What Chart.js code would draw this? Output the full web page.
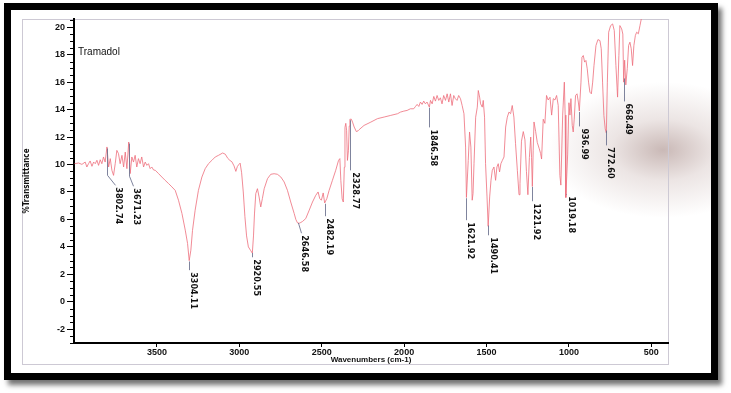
<!DOCTYPE html>
<html>
<head>
<meta charset="utf-8">
<script src="https://cdn.jsdelivr.net/npm/chart.js@4.4.1/dist/chart.umd.min.js"></script>
<style>
    html, body { margin: 0; padding: 0; background: #fff; }
    body { width: 731px; height: 393px; position: relative; overflow: hidden; }
    #frame {
        position: absolute; left: 4px; top: 3px; width: 700px; height: 363px;
        border: 7px solid #000;
        box-shadow: 4px 5px 5px rgba(0, 0, 0, 0.55);
        background: radial-gradient(ellipse 115px 68px at 652px 140px, rgba(128, 88, 82, 0.42) 0%, rgba(160, 125, 120, 0.2) 45%, rgba(255, 255, 255, 0) 100%), #fff;
    }
    #sheet { position: absolute; left: 22px; top: 19px; width: 645px; height: 344px; border: 1px solid #cdc9d4; }
    #chart { position: absolute; left: 0; top: 0; }
</style>
</head>
<body>
<div id="frame"></div>
<div id="sheet"></div>
<canvas id="chart" width="731" height="393"></canvas>
<script>
    // --- Spektrum (Wellenzahl cm-1 / %Transmittance) ---
    const wavenumbers = [
        4000, 3975, 3955, 3935, 3925, 3915, 3905, 3894, 3884, 3874, 3864, 3854, 3844, 3834, 3824, 3814,
        3803, 3793, 3783, 3773, 3763, 3753, 3743, 3733, 3723, 3712, 3702, 3692, 3682, 3671, 3662, 3652,
        3642, 3632, 3622, 3612, 3602, 3592, 3581, 3571, 3561, 3551, 3541, 3531, 3520, 3510, 3490, 3470,
        3450, 3429, 3409, 3389, 3369, 3348, 3328, 3314, 3304, 3294, 3284, 3268, 3248, 3227, 3207, 3187,
        3166, 3146, 3126, 3101, 3085, 3070, 3057, 3045, 3032, 3021, 3012, 3003, 2995, 2986, 2976, 2966,
        2956, 2945, 2932, 2921, 2914, 2908, 2900, 2890, 2880, 2870, 2860, 2849, 2829, 2809, 2789, 2769,
        2748, 2728, 2708, 2688, 2667, 2657, 2647, 2637, 2627, 2617, 2597, 2576, 2556, 2536, 2522, 2512,
        2502, 2491, 2482, 2469, 2455, 2435, 2415, 2398, 2390, 2384, 2376, 2369, 2363, 2359, 2354, 2349,
        2344, 2338, 2333, 2329, 2320, 2313, 2303, 2290, 2280, 2273, 2243, 2202, 2162, 2121, 2081, 2040,
        2022, 2002, 1982, 1962, 1942, 1931, 1921, 1911, 1901, 1891, 1881, 1871, 1861, 1847, 1840, 1830,
        1820, 1810, 1800, 1790, 1780, 1770, 1760, 1749, 1739, 1729, 1719, 1709, 1699, 1689, 1679, 1669,
        1658, 1648, 1637, 1627, 1622, 1611, 1603, 1595, 1587, 1582, 1576, 1566, 1556, 1550, 1542, 1536,
        1526, 1520, 1512, 1506, 1497, 1490, 1481, 1473, 1465, 1455, 1445, 1437, 1429, 1421, 1413, 1404,
        1394, 1384, 1374, 1364, 1354, 1344, 1334, 1324, 1313, 1303, 1297, 1288, 1277, 1267, 1258, 1249,
        1240, 1232, 1227, 1222, 1217, 1212, 1202, 1192, 1180, 1172, 1166, 1156, 1146, 1136, 1126, 1115,
        1105, 1095, 1085, 1075, 1065, 1055, 1049, 1038, 1028, 1023, 1019, 1008, 1000, 994, 988, 980,
        974, 968, 960, 951, 943, 937, 927, 921, 913, 905, 897, 889, 881, 873, 864, 856,
        848, 836, 824, 812, 804, 796, 788, 780, 773, 767, 759, 747, 735, 725, 715, 705,
        697, 691, 680, 673, 668, 662, 655, 646, 638, 630, 622, 614, 606, 597, 589, 579,
        569, 559, 550
    ];
    const transmittance = [
        10.06, 10.11, 10.01, 10.18, 9.82, 10.06, 10.26, 9.87, 10.18, 10.06, 10.31, 9.94, 10.35, 10.06, 10.55, 10.18,
        11.28, 9.82, 10.43, 9.58, 9.21, 10.06, 11.03, 10.79, 10.06, 10.67, 9.82, 10.91, 9.70, 11.64, 9.34, 10.55,
        10.18, 10.67, 9.82, 10.43, 10.06, 10.55, 9.82, 10.18, 9.94, 10.06, 9.70, 9.82, 9.6, 9.58, 9.34, 9.09,
        8.85, 8.61, 8.37, 8.12, 7.40, 6.43, 5.22, 4.25, 3.0, 3.76, 5.2, 6.67, 8.12, 9.09, 9.70, 10.06,
        10.31, 10.55, 10.67, 10.84, 10.75, 10.45, 10.3, 10.2, 9.9, 9.5, 9.85, 10.0, 10.1, 9.4, 8.0, 6.2,
        4.8, 4.0, 3.75, 3.55, 4.8, 6.4, 7.88, 8.24, 7.64, 6.91, 7.52, 8.24, 8.97, 9.29, 9.33, 9.29,
        9.09, 8.73, 8.12, 7.27, 6.43, 6.0, 5.75, 5.72, 5.78, 5.85, 6.06, 6.67, 7.27, 7.76, 8.0, 7.52,
        7.4, 7.93, 7.2, 7.52, 8.12, 8.85, 9.58, 10.3, 10.43, 8.85, 7.5, 7.27, 9.8, 12.7, 13.0, 12.5,
        10.3, 11.0, 12.8, 13.3, 13.3, 13.09, 12.73, 12.4, 12.45, 12.54, 12.85, 13.09, 13.34, 13.46, 13.58, 13.70,
        13.82, 13.89, 13.94, 14.06, 14.06, 14.23, 14.38, 14.23, 14.55, 14.38, 14.62, 14.42, 14.55, 14.18, 14.67, 14.42,
        14.96, 14.62, 15.03, 14.67, 14.86, 14.42, 15.03, 14.67, 15.15, 14.55, 15.15, 14.3, 15.03, 14.79, 14.67, 15.03,
        14.79, 14.3, 13.7, 11.27, 7.6, 10.3, 12.37, 11.27, 7.4, 7.88, 10.06, 13.45, 14.18, 15.39, 14.91, 14.42,
        14.18, 14.67, 13.45, 10.06, 7.64, 5.5, 7.64, 8.85, 9.58, 9.82, 8.85, 9.82, 10.06, 9.46, 10.06, 10.3,
        10.55, 12.73, 13.45, 13.82, 13.7, 14.3, 13.45, 11.52, 9.58, 7.8, 8.6, 11.7, 12.4, 11.8, 9.5, 7.8,
        10.5, 12.0, 10.5, 8.4, 11.0, 13.1, 12.4, 11.6, 11.15, 10.8, 10.4, 13.3, 13.0, 15.03, 14.7, 14.9,
        13.6, 14.8, 14.7, 15.03, 14.3, 9.2, 8.5, 13.6, 16.0, 13.6, 7.6, 10.7, 14.5, 13.6, 14.8, 12.85,
        12.37, 13.3, 15.03, 15.15, 14.55, 13.9, 16.0, 17.82, 17.94, 17.46, 17.58, 16.97, 16.0, 15.27, 15.15, 16.0,
        17.21, 18.67, 19.1, 19.03, 18.43, 16.0, 13.58, 12.6, 12.3, 16.0, 19.64, 20.12, 20.24, 19.76, 17.21, 14.91,
        17.94, 20.12, 19.88, 19.5, 16.0, 17.6, 15.8, 17.0, 18.67, 18.91, 18.43, 17.21, 18.67, 19.4, 19.64, 19.52,
        20.12, 20.73, 21.2
    ];

    // Achsen
    const xTicks = [3500, 3000, 2500, 2000, 1500, 1000, 500];
    const yTicks = [-2, 0, 2, 4, 6, 8, 10, 12, 14, 16, 18, 20];

    // Peak-Beschriftungen
    const peakWavenumbers = [3802.74, 3671.23, 3304.11, 2920.55, 2646.58, 2482.19, 2328.77, 1846.58,
                             1621.92, 1490.41, 1221.92, 1019.18, 936.99, 772.60, 668.49];

    // Layout der Beschriftungen: Oberkante des Textes (in %T) und seitlicher Versatz (px)
    const peakLabelTop = [8.34, 8.27, 2.16, 3.1, 4.85, 6.09, 9.43, 12.56, 5.8, 4.7, 7.18, 7.69, 12.63, 11.25, 14.45];
    const peakLabelShift = [8, 4, 1, 1, 3, 1, 2, 1, 1, 2, 1, 2, 2, 1, 1];

    const NARROW = "'Liberation Sans Narrow', 'DejaVu Sans Condensed', sans-serif";
    const SANS = "'Liberation Sans', Arial, sans-serif";

    // Kurvenwert an einer beliebigen Wellenzahl (lineare Interpolation)
    function valueAt(wn) {
        for (let i = 0; i < wavenumbers.length - 1; i++) {
            const a = wavenumbers[i], b = wavenumbers[i + 1];
            if (wn <= a && wn >= b) {
                const t = (a - wn) / (a - b);
                return transmittance[i] + t * (transmittance[i + 1] - transmittance[i]);
            }
        }
        return transmittance[transmittance.length - 1];
    }

    // --- Plugins ---
    const minorTicks = {
        id: 'minorTicks',
        afterDraw(chart) {
            const { ctx, chartArea, scales: { y } } = chart;
            ctx.save();
            ctx.strokeStyle = '#000';
            ctx.lineWidth = 1;
            for (let v = -3; v <= 20.5; v += 0.5) {
                if (Math.abs(v / 2 - Math.round(v / 2)) < 1e-6) continue;
                const py = Math.round(y.getPixelForValue(v)) + 0.5;
                ctx.beginPath();
                ctx.moveTo(chartArea.left - 4, py);
                ctx.lineTo(chartArea.left - 1, py);
                ctx.stroke();
            }
            ctx.restore();
        }
    };

    const peakLabels = {
        id: 'peakLabels',
        afterDatasetsDraw(chart) {
            const { ctx, scales: { x, y } } = chart;
            ctx.save();
            ctx.font = "bold 9px " + NARROW;
            ctx.fillStyle = '#111';
            ctx.textAlign = 'left';
            ctx.textBaseline = 'alphabetic';
            peakWavenumbers.forEach((wn, i) => {
                const px = Math.round(x.getPixelForValue(wn)) + 0.5;
                const py = y.getPixelForValue(valueAt(wn));
                const top = y.getPixelForValue(peakLabelTop[i]);
                const shift = peakLabelShift[i];
                const bend = shift > 2 ? 10 : 0;

                ctx.strokeStyle = 'rgba(105, 110, 140, 0.85)';
                ctx.lineWidth = 1;
                ctx.beginPath();
                ctx.moveTo(px, py + 1);
                ctx.lineTo(px, top - 2 - bend);
                ctx.lineTo(px + (bend ? shift : 0), top - 2);
                ctx.stroke();

                ctx.save();
                ctx.translate(px + shift, top);
                ctx.rotate(Math.PI / 2);
                ctx.fillText(wn.toFixed(2), 0, 0);
                ctx.restore();
            });

            // Probenname
            ctx.font = "10px " + SANS;
            ctx.textBaseline = 'middle';
            ctx.fillText('Tramadol', chart.chartArea.left + 4, chart.chartArea.top + 33);
            ctx.restore();
        }
    };

    // --- Chart.js Setup ---
    const tickFont = { family: SANS, size: 9, weight: 'bold' };

    new Chart(document.getElementById('chart').getContext('2d'), {
        type: 'line',
        data: {
            datasets: [{
                label: 'Tramadol',
                data: wavenumbers.map((w, i) => ({ x: w, y: transmittance[i] })),
                borderColor: 'rgba(238, 110, 124, 0.8)',
                borderWidth: 1,
                pointRadius: 0,
                tension: 0,
                fill: false
            }]
        },
        options: {
            responsive: false,
            animation: false,
            layout: { padding: { left: 22, top: 19, right: 63, bottom: 28 } },
            plugins: { legend: { display: false }, tooltip: { enabled: false } },
            scales: {
                x: {
                    type: 'linear',
                    reverse: true,
                    min: 399,
                    max: 4003,
                    afterBuildTicks: s => { s.ticks = xTicks.map(v => ({ value: v })); },
                    afterFit: s => { s.height = 22; s.paddingLeft = 0; s.paddingRight = 0; },
                    grid: { drawOnChartArea: false, drawTicks: true, tickLength: 4, color: '#000' },
                    border: { display: true, color: '#000', width: 2 },
                    ticks: { color: '#111', font: tickFont, padding: 0, maxRotation: 0, autoSkip: false, callback: v => String(v) },
                    title: { display: true, text: 'Wavenumbers (cm-1)', color: '#111', font: { family: SANS, size: 8, weight: 'bold' }, padding: 0 }
                },
                y: {
                    min: -3,
                    max: 20.6,
                    afterBuildTicks: s => { s.ticks = yTicks.map(v => ({ value: v })); },
                    afterFit: s => { s.width = 52; s.paddingTop = 0; s.paddingBottom = 0; },
                    grid: { drawOnChartArea: false, drawTicks: true, tickLength: 7, color: '#000' },
                    border: { display: true, color: '#000', width: 2 },
                    ticks: { color: '#111', font: tickFont, padding: 2, callback: v => String(v) },
                    title: { display: true, text: '%Transmittance', color: '#111', font: { family: NARROW, size: 8, weight: 'bold' }, padding: 0 }
                }
            }
        },
        plugins: [minorTicks, peakLabels]
    });
</script>
</body>
</html>
